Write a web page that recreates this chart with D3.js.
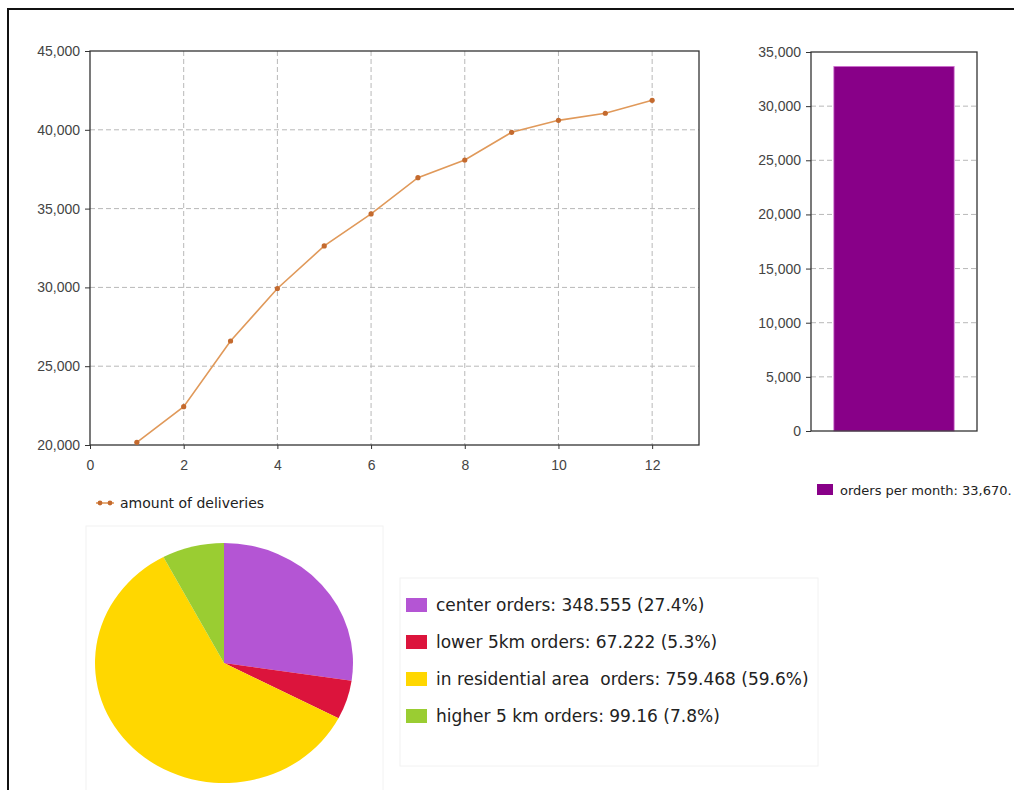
<!DOCTYPE html>
<html>
<head>
<meta charset="utf-8">
<script src="https://cdn.jsdelivr.net/npm/d3@7"></script>
<style>
  html, body { margin: 0; padding: 0; background: #fff; overflow: hidden; }
  svg { display: block; font-family: Tahoma, "DejaVu Sans", sans-serif; }
</style>
</head>
<body>
<div id="chart"></div>
<script>
// line chart data
const months = [1, 2, 3, 4, 5, 6, 7, 8, 9, 10, 11, 12]
const deliveries = [20170, 22430, 26600, 29930, 32630, 34660, 36960, 38080, 39840, 40600, 41050, 41870]
const lineTicksX = [0, 2, 4, 6, 8, 10, 12]
const lineTicksY = [20000, 25000, 30000, 35000, 40000, 45000]

// bar chart data
const barLabels = ['orders per month']
const barValues = [33670]
const barTicksY = [0, 5000, 10000, 15000, 20000, 25000, 30000, 35000]

// pie data
const pieLabels = ['center orders', 'lower 5km orders', 'in residential area  orders', 'higher 5 km orders']
const pieValues = [348.555, 67.222, 759.468, 99.16]
const pieColors = ['#b455d4', '#dc143c', '#ffd700', '#9acd32']

const W = 1014, H = 790
const svg = d3.select('#chart').append('svg')
              .attr('width', W)
              .attr('height', H)

// outer frame (runs off the right and bottom edge)
svg.append('rect')
   .attr('x', 8).attr('y', 9)
   .attr('width', 1100).attr('height', 900)
   .attr('fill', 'none')
   .attr('stroke', '#111')
   .attr('stroke-width', 2)

const fmt = d3.format(',')
const gridColor = '#b8b8b8'
const textColor = '#444'

// ---------- line chart ----------
const lx = d3.scaleLinear().domain([0, 13]).range([90, 699])
const ly = d3.scaleLinear().domain([20000, 45000]).range([445, 51])

const lineG = svg.append('g')

lineG.selectAll('.hgrid').data(lineTicksY.slice(1, -1)).join('line')
     .attr('x1', lx(0)).attr('x2', lx(13))
     .attr('y1', d => ly(d)).attr('y2', d => ly(d))
     .attr('stroke', gridColor).attr('stroke-dasharray', '5,3')
lineG.selectAll('.vgrid').data(lineTicksX.slice(1)).join('line')
     .attr('x1', d => lx(d)).attr('x2', d => lx(d))
     .attr('y1', ly(45000)).attr('y2', ly(20000))
     .attr('stroke', gridColor).attr('stroke-dasharray', '5,3')

lineG.append('rect')
     .attr('x', lx(0)).attr('y', ly(45000))
     .attr('width', lx(13) - lx(0)).attr('height', ly(20000) - ly(45000))
     .attr('fill', 'none').attr('stroke', '#333').attr('stroke-width', 1.3)

const yAxisL = lineG.append('g')
     .attr('transform', `translate(${lx(0)},0)`)
     .call(d3.axisLeft(ly).tickValues(lineTicksY).tickFormat(fmt).tickSize(5).tickPadding(5))
const xAxisL = lineG.append('g')
     .attr('transform', `translate(0,${ly(20000)})`)
     .call(d3.axisBottom(lx).tickValues(lineTicksX).tickSize(4).tickPadding(11))
;[yAxisL, xAxisL].forEach(a => {
  a.select('.domain').remove()
  a.selectAll('line').attr('stroke', '#333')
  a.selectAll('text').attr('fill', textColor).style('font-size', '14px')
})

const lineColor = '#e0995a'
const dotColor = '#c46a2e'
lineG.append('path')
     .datum(months.map((m, i) => [m, deliveries[i]]))
     .attr('fill', 'none')
     .attr('stroke', lineColor)
     .attr('stroke-width', 1.6)
     .attr('d', d3.line().x(d => lx(d[0])).y(d => ly(d[1])))
lineG.selectAll('.dot').data(deliveries).join('circle')
     .attr('cx', (d, i) => lx(months[i]))
     .attr('cy', d => ly(d))
     .attr('r', 2.6)
     .attr('fill', dotColor)

// line legend
const ll = svg.append('g').attr('transform', 'translate(96,503)')
ll.append('line').attr('x1', 0).attr('x2', 18).attr('stroke', lineColor).attr('stroke-width', 1.6)
ll.selectAll('circle').data([4, 14]).join('circle')
  .attr('cx', d => d).attr('r', 2.4).attr('fill', dotColor)
ll.append('text').attr('x', 24).attr('y', 5)
  .attr('fill', '#222').style('font-size', '14px')
  .text('amount of deliveries')

// ---------- bar chart ----------
const bx = d3.scaleBand().domain(barLabels).range([811, 977]).paddingInner(0).paddingOuter(0.19)
const by = d3.scaleLinear().domain([0, 35000]).range([431, 52])
const barG = svg.append('g')

barG.selectAll('.hgrid').data(barTicksY.slice(1, -1)).join('line')
    .attr('x1', 811).attr('x2', 977)
    .attr('y1', d => by(d)).attr('y2', d => by(d))
    .attr('stroke', gridColor).attr('stroke-dasharray', '5,3')

barG.selectAll('.bar').data(barValues).join('rect')
    .attr('x', (d, i) => bx(barLabels[i]))
    .attr('width', bx.bandwidth())
    .attr('y', d => by(d))
    .attr('height', d => by(0) - by(d))
    .attr('fill', '#880088')
    .attr('stroke', '#d070d0')
    .attr('stroke-width', 0.8)

barG.append('rect')
    .attr('x', 811).attr('y', by(35000))
    .attr('width', 977 - 811).attr('height', by(0) - by(35000))
    .attr('fill', 'none').attr('stroke', '#333').attr('stroke-width', 1.3)

const yAxisB = barG.append('g')
    .attr('transform', 'translate(811,0)')
    .call(d3.axisLeft(by).tickValues(barTicksY).tickFormat(fmt).tickSize(5).tickPadding(5))
yAxisB.select('.domain').remove()
yAxisB.selectAll('line').attr('stroke', '#333')
yAxisB.selectAll('text').attr('fill', textColor).style('font-size', '14px')

// bar legend
const bl = svg.append('g').attr('transform', 'translate(817,484)')
bl.append('rect').attr('width', 16).attr('height', 11).attr('fill', '#880088')
bl.append('text').attr('x', 23).attr('y', 11)
  .attr('fill', '#222').style('font-size', '13px')
  .text(barLabels[0] + ': ' + fmt(barValues[0]) + '.')

// ---------- pie chart ----------
svg.append('rect')
   .attr('x', 86).attr('y', 526).attr('width', 297).attr('height', 280)
   .attr('fill', 'none').attr('stroke', '#f2f2f2')
svg.append('rect')
   .attr('x', 400).attr('y', 578).attr('width', 418).attr('height', 188)
   .attr('fill', 'none').attr('stroke', '#f2f2f2')

const total = d3.sum(pieValues)
const pie = d3.pie().sort(null).value(d => d)
const arc = d3.arc().innerRadius(0).outerRadius(120)
const pieG = svg.append('g').attr('transform', 'translate(224,663) scale(1.075,1)')
pieG.selectAll('path').data(pie(pieValues)).join('path')
    .attr('d', arc)
    .attr('fill', (d, i) => pieColors[i])

const pl = svg.append('g').attr('transform', 'translate(406,598)')
const items = pl.selectAll('g').data(pieValues).join('g')
    .attr('transform', (d, i) => `translate(0,${i * 37})`)
items.append('rect').attr('width', 21).attr('height', 14)
     .attr('fill', (d, i) => pieColors[i])
items.append('text').attr('x', 30).attr('y', 13)
     .attr('fill', '#222').style('font-size', '17px')
     .style('white-space', 'pre')
     .text((d, i) => `${pieLabels[i]}: ${d} (${(d / total * 100).toFixed(1)}%)`)
</script>
</body>
</html>
